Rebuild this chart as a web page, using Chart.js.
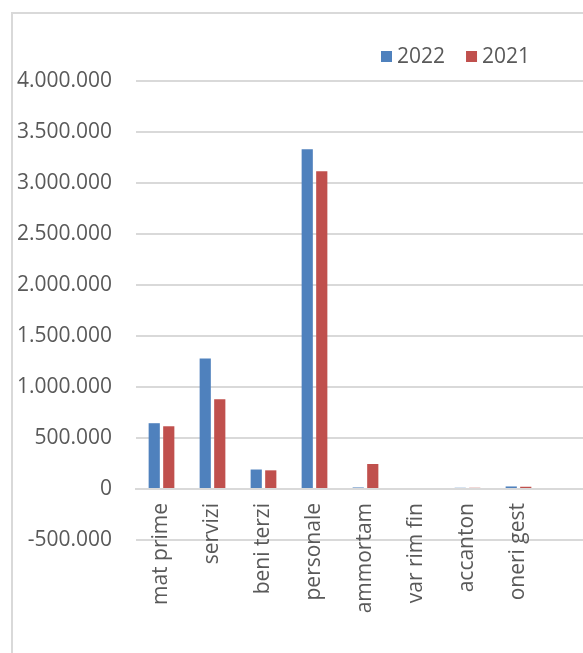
<!DOCTYPE html>
<html>
<head>
<meta charset="utf-8">
<script src="https://cdn.jsdelivr.net/npm/chart.js@4.4.1/dist/chart.umd.min.js"></script>
<style>
  html, body { margin: 0; padding: 0; overflow: hidden; background: #ffffff; width: 583px; height: 653px; }
  #frame { position: absolute; left: 11px; top: 12px; width: 700px; height: 800px; border: 2px solid #d9d9d9; box-sizing: border-box; }
  #c { position: absolute; left: 0; top: 0; }
</style>
</head>
<body>
<div id="frame"></div>
<canvas id="c" width="620" height="653"></canvas>
<script>
// ---- data ----
const categories = ['mat prime', 'servizi', 'beni terzi', 'personale', 'ammortam', 'var rim fin', 'accanton', 'oneri gest', ''];
const values2022 = [645000, 1280000, 191000, 3330000, 15000, 0, 12000, 25000, null];
const values2021 = [615000, 880000, 183000, 3115000, 245000, 0, 12000, 22000, null];
const seriesNames = ['2022', '2021'];
const yMin = -500000;
const yMax = 4000000;
const yStep = 500000;

const FONT = 'Open Sans';
const TEXT = '#595959';

function fmt(v) {
  const s = Math.abs(v).toString().replace(/\B(?=(\d{3})+(?!\d))/g, '.');
  return (v < 0 ? '-' : '') + s;
}

const legendPlugin = {
  id: 'customLegend',
  afterDraw(chart) {
    const ctx = chart.ctx;
    ctx.save();
    ctx.font = '21px "' + FONT + '"';
    ctx.textBaseline = 'middle';
    ctx.textAlign = 'left';
    let x = 381;
    const yc = 56.5;
    chart.data.datasets.forEach(ds => {
      ctx.fillStyle = ds.backgroundColor;
      ctx.fillRect(x, yc - 5.5, 11, 11);
      x += 16;
      ctx.fillStyle = TEXT;
      ctx.fillText(ds.label, x, yc + 1);
      x += ctx.measureText(ds.label).width + 21;
    });
    ctx.restore();
  }
};

new Chart(document.getElementById('c'), {
  type: 'bar',
  data: {
    labels: categories,
    datasets: [
      { label: seriesNames[0], data: values2022, backgroundColor: '#4F81BD', categoryPercentage: 0.57, barPercentage: 0.77 },
      { label: seriesNames[1], data: values2021, backgroundColor: '#C0504D', categoryPercentage: 0.57, barPercentage: 0.77 }
    ]
  },
  options: {
    responsive: false,
    animation: false,
    layout: { padding: { top: 81, bottom: 113, left: 0, right: 25 } },
    plugins: {
      legend: { display: false },
      tooltip: { enabled: false }
    },
    scales: {
      x: {
        position: { y: 0 },
        grid: { display: false, drawTicks: false },
        border: { display: true, color: '#d9d9d9', width: 2 },
        ticks: {
          autoSkip: false,
          minRotation: 90,
          maxRotation: 90,
          padding: 14,
          color: TEXT,
          font: { family: FONT, size: 21 }
        }
      },
      y: {
        min: yMin,
        max: yMax,
        afterFit(scale) { scale.width = 136; },
        grid: { color: '#d9d9d9', lineWidth: 2, drawTicks: false },
        border: { display: false },
        ticks: {
          stepSize: yStep,
          padding: 24,
          color: TEXT,
          font: { family: FONT, size: 21 },
          callback: (v) => fmt(v)
        }
      }
    }
  },
  plugins: [legendPlugin]
});
</script>
</body>
</html>
